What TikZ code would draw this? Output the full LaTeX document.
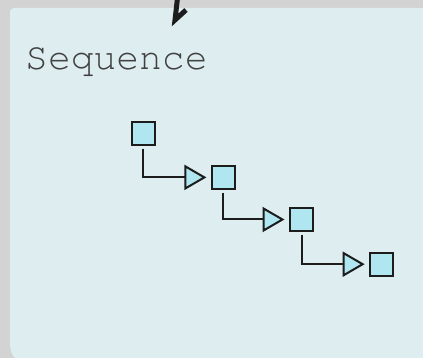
\documentclass[tikz,border=0pt]{standalone}
\usepackage[T1]{fontenc}
\usetikzlibrary{arrows.meta}
\definecolor{bggray}{RGB}{211,211,211}
\definecolor{panel}{RGB}{221,237,240}
\definecolor{boxfill}{RGB}{176,230,240}
\definecolor{txtgray}{RGB}{65,65,65}
\definecolor{ink}{RGB}{28,28,28}
\tikzset{
  stepbox/.style={draw=ink, fill=boxfill, line width=2pt, minimum size=23pt, inner sep=0pt, outer sep=0pt},
  conn/.style={draw=ink, line width=2pt, line join=miter, shorten <=4pt, shorten >=5.5pt,
    -{Triangle[length=22pt,width=25pt,fill=boxfill]}},
}
\begin{document}
\begin{tikzpicture}[x=1pt,y=-1pt]
\useasboundingbox (0,0) rectangle (423,358);
\clip (0,0) rectangle (423,358);
\fill[bggray] (0,0) rectangle (423,358);
\fill[panel] (10,12) arc[start angle=180,end angle=270,radius=4] -- (430,8) -- (430,365) -- (30,365) arc[start angle=90,end angle=180,radius=20] -- cycle;
\draw[ink, line width=5pt, line cap=butt, line join=miter] (177.5,-2) -- (175,20) -- (186,10);
\node[anchor=base west, inner sep=0pt, text=txtgray, font={\fontencoding{T1}\fontfamily{pcr}\fontsize{38}{42}\selectfont}] (title) at (25,69.3) {Sequence};
\node[stepbox] (s1) at (143.2,133.2) {};
\node[stepbox] (s2) at (223.4,177.4) {};
\node[stepbox] (s3) at (301.5,219.5) {};
\node[stepbox] (s4) at (381.7,264.2) {};
\draw[conn] (s1.south) |- (s2.west);
\draw[conn] (s2.south) |- (s3.west);
\draw[conn] (s3.south) |- (s4.west);
\end{tikzpicture}
\end{document}
